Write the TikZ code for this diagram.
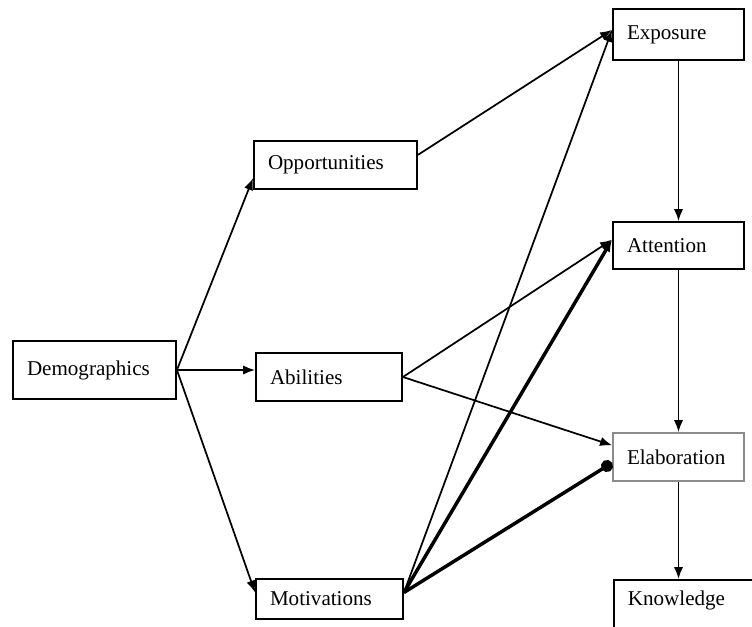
\documentclass[tikz,border=0pt]{standalone}
\usepackage{fontspec}
\setmainfont{Liberation Serif}
\usetikzlibrary{arrows.meta}
\tikzstyle{diagram}=[x=0.75pt, y=-0.75pt, line width=1.3pt, >={Latex[length=9pt,width=7pt]}, font=\fontsize{15.8}{19}\selectfont]
\tikzstyle{box}=[draw, rectangle, align=left, inner xsep=10.5pt, inner ysep=0pt, line width=1.4pt]
\tikzstyle{strong}=[line width=2.6pt]

\begin{document}
\begin{tikzpicture}[diagram]
          \useasboundingbox (0,0) rectangle (752,626);
          \clip (0,0) rectangle (752,626);

          \node[box, text width=101.25pt, minimum height=43.5pt] (demo)  at (94.5,370)  {Demographics};
          \node[box, text width=101.25pt, minimum height=36pt]   (opp)   at (335.5,165) {Opportunities};
          \node[box, text width=88.5pt,   minimum height=36pt]   (abil)  at (329,377)   {Abilities};
          \node[box, text width=89.25pt,  minimum height=30pt]   (motiv) at (329.5,599) {Motivations};
          \node[box, text width=77.25pt,  minimum height=38.25pt] (expo) at (678.5,34.5) {Exposure};
          \node[box, text width=77.25pt,  minimum height=35.25pt] (att)  at (678.5,245.5) {Attention};
          \node[box, draw=black!45, text width=77.25pt, minimum height=36pt] (elab) at (678.5,457) {Elaboration};
          \node[box, text width=99pt, anchor=north west, inner ysep=8pt, text depth=30pt] (know) at (613,579) {Knowledge};

          \path[->]
            (demo.east) edge (opp.-171)
                        edge (demo.east -| abil.west)
                        edge (motiv.175)
            (opp.7)     edge (expo.176)
            (abil.east) edge (att.175)
                        edge (elab.170)
            (motiv.5)   edge (expo.176)
                        edge [strong] (att.175)
                        edge [strong, -{Circle[length=9pt]}] (elab.185)
            (expo.south) edge (att.north)
            (att.south)  edge (elab.north)
            (elab.south) edge (elab.south |- know.north);
        \end{tikzpicture}
\end{document}
